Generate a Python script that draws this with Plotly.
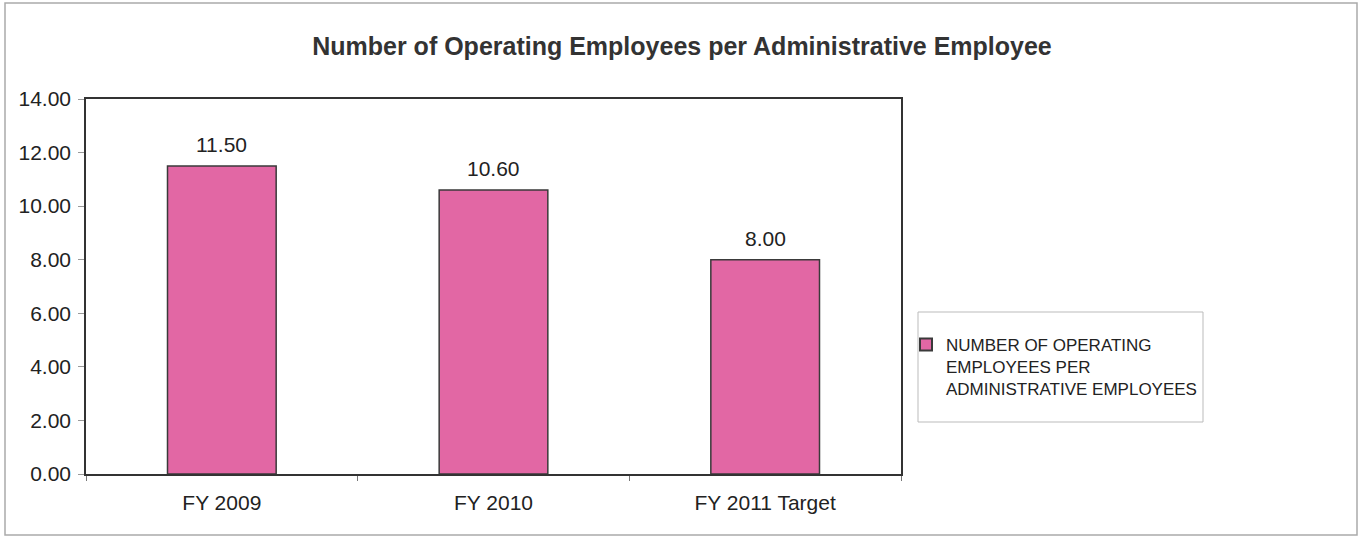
import plotly.graph_objects as go

# Chart data
categories = ["FY 2009", "FY 2010", "FY 2011 Target"]
values = [11.50, 10.60, 8.00]
series_name = "NUMBER OF OPERATING<br>EMPLOYEES PER<br>ADMINISTRATIVE EMPLOYEES"
y_ticks = [0, 2, 4, 6, 8, 10, 12, 14]

W, H = 1364, 538
ml, mr, mt, mb = 86, 463, 99, 64
pw = W - ml - mr
ph = H - mt - mb
FONT = "Liberation Sans, Arial"


def px_x(x):
    return (x - ml) / pw


def px_y(y):
    return (H - mb - y) / ph


fig = go.Figure()
fig.add_trace(go.Bar(
    x=categories,
    y=values,
    name=series_name,
    marker=dict(color="#E267A4", line=dict(color="#3a3a3a", width=1.5)),
    showlegend=True,
))

# value labels above each bar
for c, v in zip(categories, values):
    fig.add_annotation(
        x=c, y=v, text=f"{v:.2f}", showarrow=False,
        yanchor="bottom", yshift=8,
        font=dict(family=FONT, size=21, color="#222"),
    )

fig.update_layout(
    width=W, height=H,
    margin=dict(l=ml, r=mr, t=mt, b=mb),
    paper_bgcolor="white",
    plot_bgcolor="white",
    bargap=0.6,
    title=dict(
        text="<b>Number of Operating Employees per Administrative Employee</b>",
        x=0.5, xref="container", xanchor="center",
        y=1 - 46 / H, yanchor="middle",
        font=dict(family=FONT, size=25, color="#333"),
    ),
    font=dict(family=FONT, size=21, color="#222"),
    xaxis=dict(
        showline=True, linecolor="#333", linewidth=1.5, mirror=True,
        ticks="outside", tickson="boundaries", ticklen=5, tickcolor="#777",
        ticklabelstandoff=9,
        showgrid=False,
        tickfont=dict(size=21, color="#222"),
    ),
    yaxis=dict(
        range=[0, 14], tickvals=y_ticks, tickformat=".2f",
        showline=True, linecolor="#333", linewidth=1.5, mirror=True,
        ticks="outside", ticklen=6, tickcolor="#999",
        ticklabelstandoff=3,
        showgrid=False, zeroline=False,
        tickfont=dict(size=21, color="#222"),
    ),
    legend=dict(
        x=px_x(906), y=px_y(327), xanchor="left", yanchor="top",
        borderwidth=0, bgcolor="rgba(0,0,0,0)",
        valign="top",
        font=dict(family=FONT, size=17, color="#222"),
        itemsizing="constant",
    ),
    shapes=[
        # outer chart frame
        dict(type="rect", xref="paper", yref="paper",
             x0=px_x(5), x1=px_x(1357), y0=px_y(535), y1=px_y(3),
             line=dict(color="#aaaaaa", width=1.5), fillcolor="rgba(0,0,0,0)",
             layer="below"),
        # legend box
        dict(type="rect", xref="paper", yref="paper",
             x0=px_x(918), x1=px_x(1203), y0=px_y(422), y1=px_y(312),
             line=dict(color="#bbbbbb", width=1), fillcolor="rgba(0,0,0,0)",
             layer="below"),
    ],
)

fig.write_html("out.html")
